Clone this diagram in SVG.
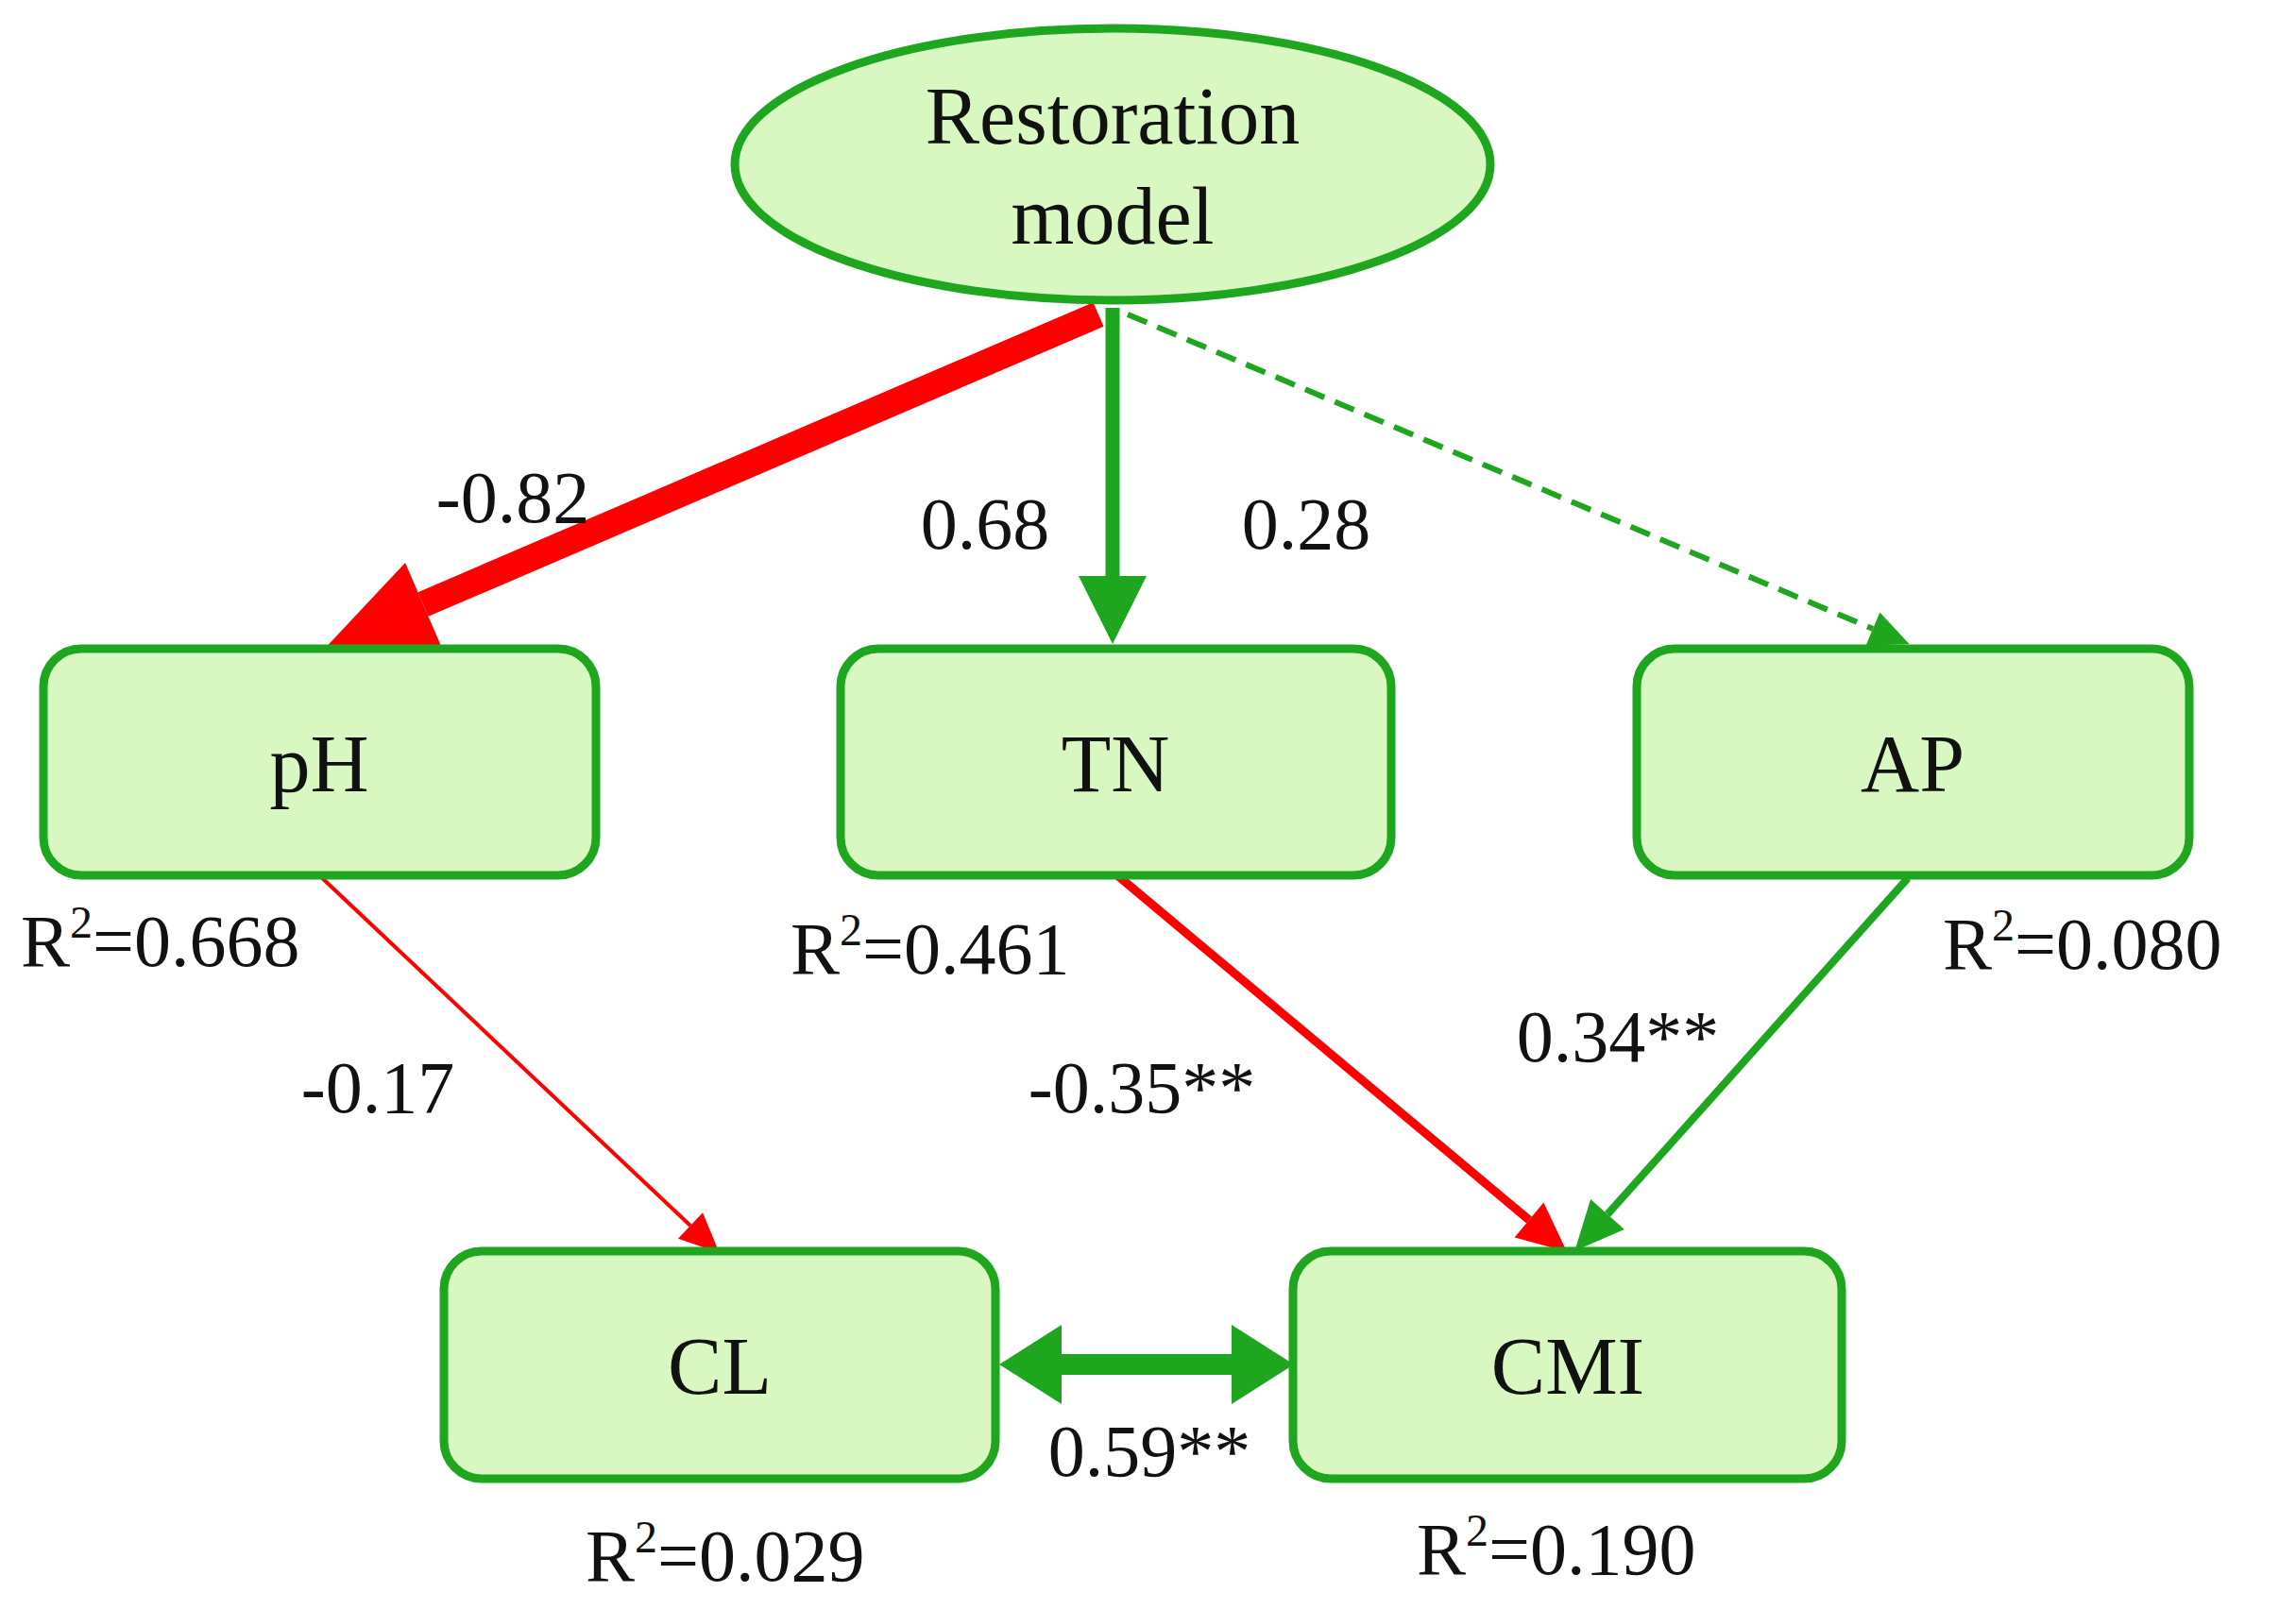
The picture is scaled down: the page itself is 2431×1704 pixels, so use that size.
<svg xmlns="http://www.w3.org/2000/svg" width="2431" height="1704" viewBox="0 0 2431 1704">
<style>
.n{fill:#d9f7c0;stroke:#1fa61f;stroke-width:9}
.t{font-family:"Liberation Serif",serif;font-size:86px;fill:#111;text-anchor:middle}
.l{font-family:"Liberation Serif",serif;font-size:78px;fill:#111}
.m{text-anchor:middle}
sup{}
</style>
<defs>
<marker id="hR1" markerUnits="userSpaceOnUse" markerWidth="110" markerHeight="96" refX="0" refY="48" orient="auto" overflow="visible"><path d="M0,0 L110,48 L0,96z" fill="#f00"/></marker>
<marker id="hG1" markerUnits="userSpaceOnUse" markerWidth="72" markerHeight="72" refX="0" refY="36" orient="auto" overflow="visible"><path d="M0,0 L72,36 L0,72z" fill="#1fa61f"/></marker>
<marker id="hGs" markerUnits="userSpaceOnUse" markerWidth="42" markerHeight="38" refX="0" refY="19" orient="auto" overflow="visible"><path d="M0,0 L42,19 L0,38z" fill="#1fa61f"/></marker>
<marker id="hRs" markerUnits="userSpaceOnUse" markerWidth="42" markerHeight="38" refX="0" refY="19" orient="auto" overflow="visible"><path d="M0,0 L42,19 L0,38z" fill="#f00"/></marker>
<marker id="hRm" markerUnits="userSpaceOnUse" markerWidth="52" markerHeight="48" refX="0" refY="24" orient="auto" overflow="visible"><path d="M0,0 L52,24 L0,48z" fill="#f00"/></marker>
<marker id="hGm" markerUnits="userSpaceOnUse" markerWidth="52" markerHeight="48" refX="0" refY="24" orient="auto" overflow="visible"><path d="M0,0 L52,24 L0,48z" fill="#1fa61f"/></marker>
<marker id="hGd" markerUnits="userSpaceOnUse" markerWidth="66" markerHeight="84" refX="0" refY="42" orient="auto-start-reverse" overflow="visible"><path d="M0,0 L66,42 L0,84z" fill="#1fa61f"/></marker>
</defs>
<g id="connectors" fill="none">
<line x1="1163" y1="333" x2="448" y2="640" stroke="#f00" stroke-width="28" marker-end="url(#hR1)"/>
<line x1="1178" y1="326" x2="1178" y2="610" stroke="#1fa61f" stroke-width="15" marker-end="url(#hG1)"/>
<line x1="1194" y1="333" x2="1983" y2="666" stroke="#1fa61f" stroke-width="6" stroke-dasharray="22,12" marker-end="url(#hGs)"/>
<line x1="338" y1="927" x2="731" y2="1298" stroke="#f00" stroke-width="4" marker-end="url(#hRs)"/>
<line x1="1183" y1="927" x2="1619" y2="1292" stroke="#f00" stroke-width="9" marker-end="url(#hRm)"/>
<line x1="2020" y1="930" x2="1702" y2="1286" stroke="#1fa61f" stroke-width="8" marker-end="url(#hGm)"/>
<line x1="1124" y1="1445" x2="1304" y2="1445" stroke="#1fa61f" stroke-width="22" marker-start="url(#hGd)" marker-end="url(#hGd)"/>
</g>
<g id="restoration"><ellipse class="n" cx="1178" cy="174" rx="400" ry="144"/><text class="t" x="1178" y="152">Restoration</text><text class="t" x="1178" y="258">model</text></g>
<g id="pH"><rect class="n" x="46" y="687" width="585" height="240" rx="40"/><text class="t" x="338" y="838">pH</text></g>
<g id="TN"><rect class="n" x="890" y="687" width="583" height="240" rx="40"/><text class="t" x="1181" y="838">TN</text></g>
<g id="AP"><rect class="n" x="1733" y="687" width="585" height="240" rx="40"/><text class="t" x="2025" y="838">AP</text></g>
<g id="CL"><rect class="n" x="470" y="1325" width="584" height="241" rx="40"/><text class="t" x="762" y="1476">CL</text></g>
<g id="CMI"><rect class="n" x="1369" y="1325" width="581" height="241" rx="40"/><text class="t" x="1660" y="1476">CMI</text></g>
<g id="labels" class="l">
<text class="l m" x="543" y="553">-0.82</text>
<text class="l m" x="1043" y="581">0.68</text>
<text class="l m" x="1383" y="581">0.28</text>
<text class="l m" x="400" y="1178">-0.17</text>
<text class="l m" x="1209" y="1178">-0.35**</text>
<text class="l m" x="1713" y="1124">0.34**</text>
<text class="l m" x="1217" y="1563">0.59**</text>
<text class="l" x="22" y="1023">R<tspan dy="-30" font-size="48">2</tspan><tspan dy="30">=0.668</tspan></text>
<text class="l" x="837" y="1031">R<tspan dy="-30" font-size="48">2</tspan><tspan dy="30">=0.461</tspan></text>
<text class="l" x="2057" y="1026">R<tspan dy="-30" font-size="48">2</tspan><tspan dy="30">=0.080</tspan></text>
<text class="l" x="620" y="1674">R<tspan dy="-30" font-size="48">2</tspan><tspan dy="30">=0.029</tspan></text>
<text class="l" x="1500" y="1667">R<tspan dy="-30" font-size="48">2</tspan><tspan dy="30">=0.190</tspan></text>
</g>
</svg>
